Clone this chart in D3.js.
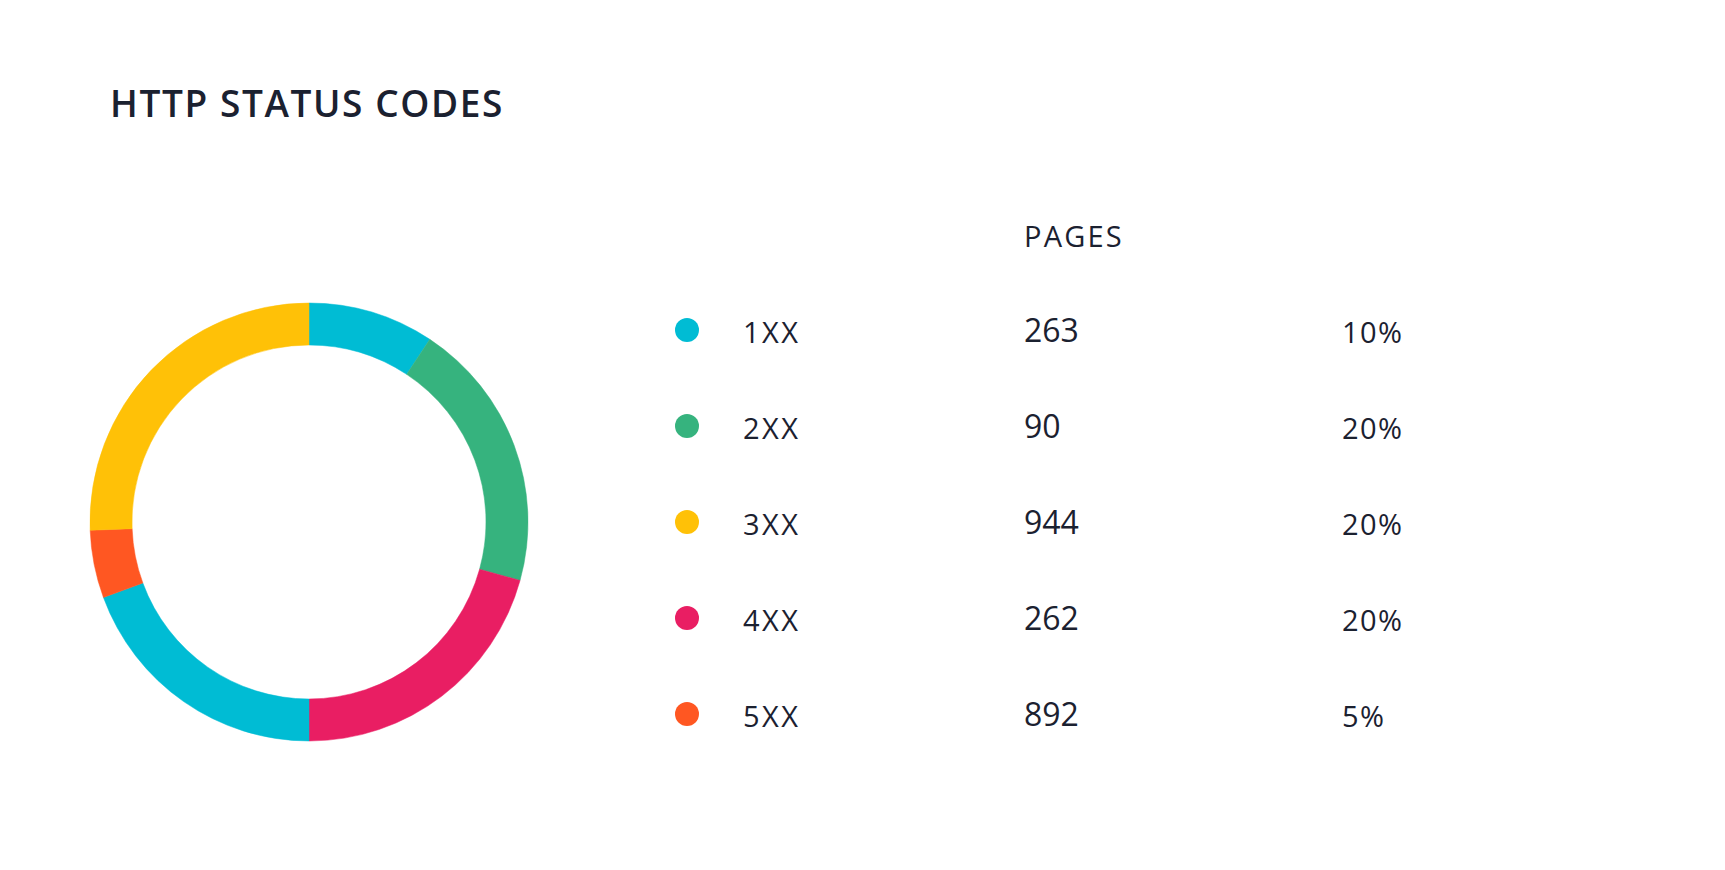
<!DOCTYPE html>
<html>
<head>
<meta charset="utf-8">
<script src="https://cdn.jsdelivr.net/npm/d3@7"></script>
<style>
  html, body { margin: 0; padding: 0; background: #ffffff; }
  svg { display: block; font-family: "Open Sans", "Noto Sans", sans-serif; }
</style>
</head>
<body>
<svg id="chart" width="1725" height="870"></svg>
<script>
// ---- data ----
const title = "HTTP STATUS CODES";
const columnHeader = "PAGES";
const categories = ["1XX", "2XX", "3XX", "4XX", "5XX"];
const pages = [263, 90, 944, 262, 892];
const percents = ["10%", "20%", "20%", "20%", "5%"];
const categoryColors = ["#00BCD4", "#36B37E", "#FFC107", "#E91E63", "#FF5722"];
// donut slices, clockwise from 12 o'clock
const donutCategories = ["1XX", "2XX", "4XX", "1XX", "5XX", "3XX"];
const donutShares = [9.3, 20.0, 20.7, 19.4, 5.0, 25.6];

// ---- drawing ----
const svg = d3.select("#chart");
const textColor = "#1b2130";
const color = d3.scaleOrdinal().domain(categories).range(categoryColors);

svg.append("text")
  .attr("x", 110).attr("y", 117)
  .attr("font-size", 37).attr("font-weight", 600)
  .attr("fill", textColor)
  .attr("letter-spacing", 1.6)
  .text(title);

// donut
const cx = 309, cy = 522, rOuter = 219, rInner = 177;
const pie = d3.pie().sort(null).value(d => d.v);
const arc = d3.arc().innerRadius(rInner).outerRadius(rOuter);
const donutData = donutShares.map((v, i) => ({ v, cat: donutCategories[i] }));
svg.append("g").attr("transform", `translate(${cx},${cy})`)
  .selectAll("path").data(pie(donutData)).join("path")
  .attr("d", arc)
  .attr("fill", d => color(d.data.cat))
  .attr("stroke", d => color(d.data.cat))
  .attr("stroke-width", 0.5);

// legend table
const y = d3.scalePoint().domain(categories).range([330, 714]);
const colDot = 687, colLabel = 743, colPages = 1024, colPct = 1342;

svg.append("text")
  .attr("x", colPages).attr("y", 247)
  .attr("font-size", 29).attr("font-weight", 500)
  .attr("fill", textColor).attr("letter-spacing", 2.2)
  .text(columnHeader);

const rows = svg.append("g").selectAll("g").data(categories).join("g")
  .attr("transform", d => `translate(0,${y(d)})`);

rows.append("circle").attr("cx", colDot).attr("cy", 0).attr("r", 12)
  .attr("fill", d => color(d));

rows.append("text").attr("x", colLabel).attr("y", 13)
  .attr("font-size", 29).attr("font-weight", 400)
  .attr("letter-spacing", 2.4).attr("fill", textColor)
  .text(d => d);

rows.append("text").attr("x", colPages).attr("y", 12)
  .attr("font-size", 32).attr("font-weight", 500)
  .attr("fill", textColor)
  .text((d, i) => pages[i]);

rows.append("text").attr("x", colPct).attr("y", 13)
  .attr("font-size", 29).attr("font-weight", 500)
  .attr("letter-spacing", 1.4)
  .attr("fill", textColor)
  .text((d, i) => percents[i]);
</script>
</body>
</html>
